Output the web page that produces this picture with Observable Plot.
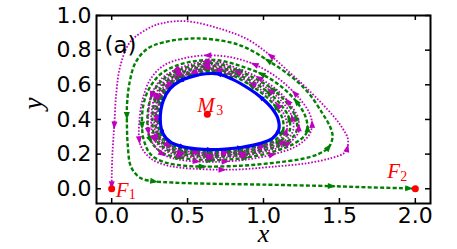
<!DOCTYPE html>
<html><head><meta charset="utf-8">
<script src="https://cdn.jsdelivr.net/npm/d3@7"></script>
<script src="https://cdn.jsdelivr.net/npm/@observablehq/plot@0.6"></script>
<style>body{margin:0;background:#fff}</style>
</head><body><div id="chart"></div>
<script>
const xTicks = [0, 0.5, 1.0, 1.5, 2.0];
const yTicks = [0, 0.2, 0.4, 0.6, 0.8, 1.0];
const xDomain = [-0.1, 2.1];
const yDomain = [-0.085, 1.0];
const fixedPoints = [
  {name: "F", sub: "1", x: 0.0, y: 0.0},
  {name: "F", sub: "2", x: 2.0, y: 0.0},
  {name: "M", sub: "3", x: 0.63, y: 0.43}
];
// third element 1 = an arrowhead sits on that point
const blueCycle = [[0.320,0.400],[0.338,0.318,1],[0.390,0.268],[0.470,0.242,1],[0.560,0.230],[0.650,0.226,1],[0.750,0.229],[0.850,0.238,1],[0.980,0.262],[1.060,0.292],[1.100,0.340,1],[1.095,0.405],[1.050,0.470],[0.980,0.530,1],[0.900,0.580],[0.800,0.630],[0.700,0.663,1],[0.620,0.664],[0.540,0.650],[0.450,0.622,1],[0.385,0.578],[0.340,0.510]];

const greenRing1 = [[0.800,0.642],[0.700,0.676,1],[0.620,0.677],[0.540,0.663,1],[0.445,0.634],[0.375,0.588,1],[0.326,0.515],[0.305,0.400,1],[0.323,0.310],[0.380,0.256,1],[0.465,0.229],[0.560,0.217,1],[0.650,0.213],[0.750,0.216,1],[0.850,0.225],[0.985,0.250,1],[1.080,0.283],[1.128,0.335,1],[1.125,0.405],[1.078,0.477,1],[1.003,0.542],[0.918,0.596,1],[0.812,0.648]];
const greenRing2 = [[0.700,0.690],[0.620,0.691,1],[0.540,0.677],[0.440,0.647,1],[0.365,0.598],[0.312,0.520,1],[0.288,0.400],[0.308,0.300,1],[0.370,0.243],[0.460,0.215,1],[0.560,0.203],[0.650,0.199,1],[0.750,0.202],[0.860,0.212,1],[1.000,0.238],[1.110,0.275,1],[1.170,0.330],[1.168,0.408,1],[1.110,0.490],[1.030,0.557,1],[0.935,0.614],[0.822,0.664,1]];
const greenRing3 = [[0.700,0.706],[0.620,0.707,1],[0.540,0.693],[0.433,0.661,1],[0.350,0.610],[0.292,0.527,1],[0.268,0.400],[0.288,0.291,1],[0.356,0.229],[0.455,0.200,1],[0.560,0.189],[0.650,0.185,1],[0.750,0.188],[0.870,0.198,1],[1.020,0.226],[1.145,0.266,1],[1.215,0.327],[1.212,0.412,1],[1.145,0.505],[1.058,0.575,1],[0.955,0.632],[0.835,0.682,1]];
const greenRing4 = [[0.700,0.722],[0.620,0.724,1],[0.540,0.711],[0.425,0.678,1],[0.330,0.624],[0.262,0.535,1],[0.235,0.400],[0.255,0.282,1],[0.330,0.210],[0.445,0.180,1],[0.560,0.169],[0.650,0.165,1],[0.750,0.168],[0.880,0.179,1],[1.045,0.209],[1.190,0.255],[1.275,0.310],[1.290,0.350,1],[1.275,0.420],[1.215,0.505,1],[1.105,0.598],[0.985,0.663,1],[0.850,0.708]];
const greenOuter = [[0.700,0.742],[0.560,0.738],[0.430,0.712],[0.320,0.660],[0.245,0.575],[0.208,0.480],[0.200,0.365,1],[0.212,0.280],[0.260,0.195],[0.360,0.150],[0.480,0.133],[0.600,0.128,1],[0.850,0.133],[1.070,0.150],[1.250,0.172],[1.360,0.200],[1.430,0.240,1],[1.455,0.300],[1.440,0.355],[1.385,0.440],[1.290,0.560],[1.180,0.650],[1.030,0.740,1],[0.890,0.812],[0.780,0.845],[0.560,0.868],[0.340,0.845],[0.230,0.805],[0.155,0.725],[0.118,0.614],[0.102,0.500],[0.100,0.420,1],[0.106,0.250],[0.128,0.125],[0.190,0.062],[0.280,0.043,1],[0.400,0.036],[0.600,0.030],[1.000,0.024],[1.450,0.015,1],[1.700,0.008],[1.960,0.002,1],[2.000,0.000]];

const magentaRing1 = [[0.810,0.648],[0.700,0.683,1],[0.620,0.684],[0.540,0.670,1],[0.442,0.640],[0.370,0.593,1],[0.319,0.517],[0.296,0.400,1],[0.315,0.305],[0.375,0.250,1],[0.462,0.222],[0.560,0.210,1],[0.650,0.206],[0.750,0.209,1],[0.855,0.218],[0.992,0.244,1],[1.095,0.279],[1.150,0.332,1],[1.147,0.406],[1.094,0.483,1],[1.016,0.549],[0.926,0.605,1],[0.817,0.656]];
const magentaRing2 = [[0.700,0.698],[0.620,0.699,1],[0.540,0.685],[0.438,0.654,1],[0.358,0.604],[0.304,0.523,1],[0.280,0.400],[0.300,0.295,1],[0.364,0.236],[0.458,0.207,1],[0.560,0.196],[0.650,0.192,1],[0.750,0.195],[0.865,0.205,1],[1.010,0.232],[1.128,0.270,1],[1.192,0.328],[1.190,0.410,1],[1.128,0.497],[1.044,0.566,1],[0.945,0.623],[0.828,0.673,1]];
const magentaRing3 = [[0.700,0.714],[0.620,0.715,1],[0.540,0.702],[0.432,0.669,1],[0.343,0.617],[0.284,0.531,1],[0.260,0.400],[0.280,0.286,1],[0.350,0.221],[0.452,0.191,1],[0.560,0.181],[0.650,0.177,1],[0.750,0.180],[0.875,0.190,1],[1.032,0.219],[1.165,0.262,1],[1.230,0.325],[1.232,0.355,1],[1.228,0.410],[1.160,0.505,1],[1.075,0.580],[0.970,0.640,1],[0.842,0.690]];
const magentaRing4 = [[0.700,0.733],[0.620,0.735,1],[0.540,0.722],[0.422,0.688,1],[0.325,0.632],[0.262,0.540,1],[0.240,0.400],[0.242,0.330,1],[0.262,0.275],[0.335,0.200,1],[0.445,0.168],[0.560,0.158,1],[0.650,0.155],[0.750,0.158,1],[0.885,0.168],[1.060,0.198,1],[1.215,0.245],[1.300,0.310],[1.320,0.375,1],[1.295,0.450],[1.205,0.552,1],[1.085,0.645],[0.940,0.718,1],[0.790,0.758]];
const magentaOuter = [[0.630,0.770,1],[0.470,0.752],[0.340,0.710],[0.255,0.632],[0.205,0.520],[0.183,0.400],[0.182,0.280,1],[0.205,0.225],[0.265,0.170],[0.350,0.138],[0.450,0.122],[0.600,0.113],[0.730,0.110,1],[0.850,0.112],[1.070,0.128],[1.290,0.148],[1.450,0.178],[1.530,0.205],[1.552,0.235,1],[1.555,0.290],[1.520,0.350],[1.460,0.420],[1.290,0.576],[1.180,0.665],[1.047,0.768,1],[0.900,0.860],[0.720,0.922],[0.495,0.967],[0.330,0.955],[0.230,0.920],[0.120,0.845],[0.057,0.710],[0.030,0.550],[0.017,0.365,1],[0.006,0.220],[0.001,0.100],[0.000,0.020,1],[0.000,0.000]];

const greenPath = [...greenRing1, ...greenRing2, ...greenRing3, ...greenRing4, ...greenOuter];
const magentaPath = [...magentaRing1, ...magentaRing2, ...magentaRing3, ...magentaRing4, ...magentaOuter];

const GREEN = "#008000", MAGENTA = "#bf00bf", BLUE = "#0000ff", RED = "#ff0000";
const serif = "Liberation Serif, DejaVu Serif, serif";

const base = {
  width: 457, height: 249,
  marginLeft: 96, marginRight: 27, marginTop: 15, marginBottom: 46,
  x: {domain: xDomain}, y: {domain: yDomain},
  style: {fontFamily: "DejaVu Sans", background: "white", color: "black"}
};

function lineMarks() {
  return [
    Plot.line(greenPath, {x: d => d[0], y: d => d[1], curve: "catmull-rom", stroke: GREEN, strokeWidth: 2.4, strokeDasharray: "4 2.2", strokeLinecap: "butt"}),
    Plot.line(magentaPath, {x: d => d[0], y: d => d[1], curve: "catmull-rom", stroke: MAGENTA, strokeWidth: 1.8, strokeDasharray: "1.6 1.7", strokeLinecap: "butt"})
  ];
}

// first pass: read the scales to orient arrowheads in screen space
const probe = Plot.plot({...base, marks: lineMarks()});
const sx = probe.scale("x"), sy = probe.scale("y");
const kx = sx.apply(1) - sx.apply(0);
const ky = sy.apply(0) - sy.apply(1);

function arrowsOf(path, closed) {
  const out = [];
  const n = path.length;
  path.forEach((p, i) => {
    if (p[2] !== 1) return;
    const prev = closed ? path[(i - 1 + n) % n] : (path[i - 1] || p);
    const next = closed ? path[(i + 1) % n] : (path[i + 1] || p);
    const a = Math.atan2((next[0] - prev[0]) * kx, (next[1] - prev[1]) * ky) * 180 / Math.PI;
    out.push({x: p[0], y: p[1], a});
  });
  return out;
}
const greenArrows = arrowsOf(greenPath, false);
const magentaArrows = arrowsOf(magentaPath, false);
const blueArrows = arrowsOf(blueCycle, true);

const tx = 5 / ky, ty = 5 / kx;
const [x0, x1] = xDomain, [y0, y1] = yDomain;
const labelFont = {fontFamily: serif, fontStyle: "italic", fill: RED};
const F1 = [fixedPoints[0]], F2 = [fixedPoints[1]], M3 = [fixedPoints[2]];

const chart = Plot.plot({
  ...base,
  marks: [
    ...lineMarks(),
    Plot.vector(greenArrows, {x: "x", y: "y", rotate: "a", length: 8, r: 3, shape: "spike", anchor: "middle", fill: GREEN, stroke: "none"}),
    Plot.vector(magentaArrows, {x: "x", y: "y", rotate: "a", length: 8, r: 3, shape: "spike", anchor: "middle", fill: MAGENTA, stroke: "none"}),
    Plot.line(blueCycle, {x: d => d[0], y: d => d[1], curve: "catmull-rom-closed", stroke: BLUE, strokeWidth: 3.2}),
    Plot.vector(blueArrows, {x: "x", y: "y", rotate: "a", length: 7, r: 2.6, shape: "spike", anchor: "middle", fill: BLUE, stroke: "none"}),
    Plot.dot(fixedPoints, {x: "x", y: "y", r: 3.5, fill: RED}),
    Plot.text(F1, {x: "x", y: "y", text: "name", ...labelFont, fontSize: 21, textAnchor: "start", dx: 4, dy: 1}),
    Plot.text(F1, {x: "x", y: "y", text: "sub", ...labelFont, fontStyle: "normal", fontSize: 14, textAnchor: "start", dx: 17, dy: 6}),
    Plot.text(F2, {x: "x", y: "y", text: "name", ...labelFont, fontSize: 21, textAnchor: "start", dx: -28, dy: -18}),
    Plot.text(F2, {x: "x", y: "y", text: "sub", ...labelFont, fontStyle: "normal", fontSize: 14, textAnchor: "start", dx: -15, dy: -12}),
    Plot.text(M3, {x: "x", y: "y", text: "name", ...labelFont, fontSize: 21, textAnchor: "start", dx: -10, dy: -9}),
    Plot.text(M3, {x: "x", y: "y", text: "sub", ...labelFont, fontStyle: "normal", fontSize: 14, textAnchor: "start", dx: 9, dy: -4}),
    Plot.text(["(a)"], {frameAnchor: "top-left", text: d => d, fontSize: 23, textAnchor: "start", dx: 8, dy: 21}),
    Plot.frame({stroke: "black", strokeWidth: 2}),
    Plot.ruleX(xTicks, {x: d => d, y1: y0, y2: y0 + tx, stroke: "black", strokeWidth: 1.5}),
    Plot.ruleX(xTicks, {x: d => d, y1: y1, y2: y1 - tx, stroke: "black", strokeWidth: 1.5}),
    Plot.ruleY(yTicks, {y: d => d, x1: x0, x2: x0 + ty, stroke: "black", strokeWidth: 1.5}),
    Plot.ruleY(yTicks, {y: d => d, x1: x1, x2: x1 - ty, stroke: "black", strokeWidth: 1.5}),
    Plot.axisX({ticks: xTicks, tickSize: 0, tickPadding: 4, fontSize: 22, tickFormat: d => d.toFixed(1), label: null}),
    Plot.axisY({ticks: yTicks, tickSize: 0, tickPadding: 5, fontSize: 22, tickFormat: d => d.toFixed(1), label: null}),
    Plot.text(["x"], {frameAnchor: "bottom", text: d => d, fontFamily: serif, fontStyle: "italic", fontSize: 26, dy: 38}),
    Plot.text(["y"], {frameAnchor: "left", text: d => d, fontFamily: serif, fontStyle: "italic", fontSize: 27, rotate: -90, dx: -63})
  ]
});
document.getElementById("chart").appendChild(chart);
</script>
</body></html>
